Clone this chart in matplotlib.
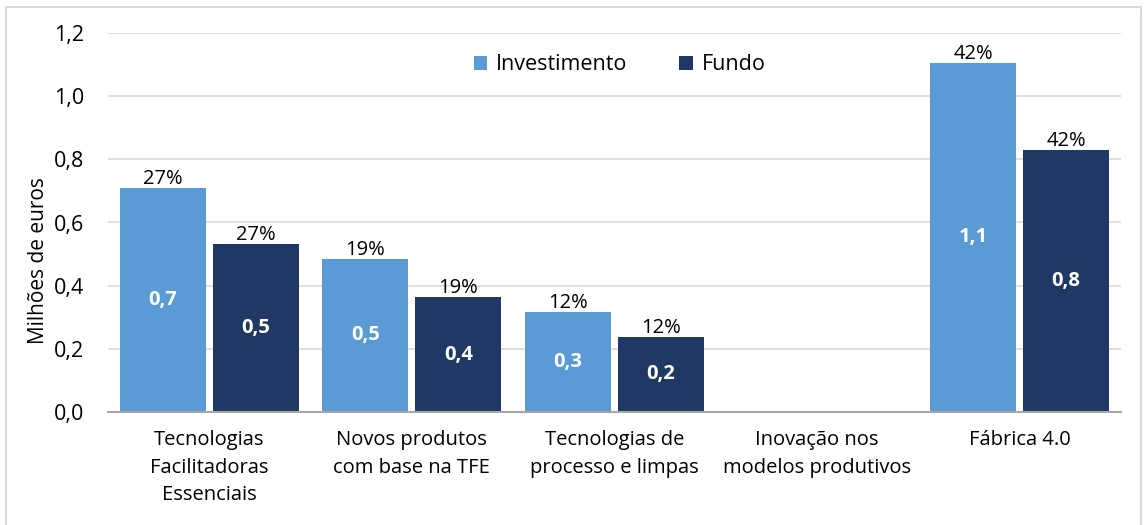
import numpy as np
import matplotlib.pyplot as plt
from matplotlib.patches import Rectangle

categorias = ['Tecnologias\nFacilitadoras\nEssenciais', 'Novos produtos\ncom base na TFE',
              'Tecnologias de\nprocesso e limpas', 'Inovação nos\nmodelos produtivos', 'Fábrica 4.0']
investimento = [0.71, 0.485, 0.317, 0.0, 1.106]
fundo = [0.532, 0.364, 0.238, 0.0, 0.83]
pct_inv = ['27%', '19%', '12%', '', '42%']
pct_fundo = ['27%', '19%', '12%', '', '42%']

plt.rcParams['font.family'] = ['Open Sans', 'DejaVu Sans']

fig = plt.figure(figsize=(11.47, 5.25), dpi=100)
ax = fig.add_axes([108 / 1147, 1 - 412 / 525, (1121 - 108) / 1147, (412 - 33) / 525])

x = np.arange(len(categorias))
w = 0.424
off = 0.2295
c_inv = '#5B9BD5'
c_fun = '#203864'

b1 = ax.bar(x - off, investimento, w, color=c_inv, label='Investimento', zorder=3)
b2 = ax.bar(x + off, fundo, w, color=c_fun, label='Fundo', zorder=3)

for bars, vals, pcts in [(b1, investimento, pct_inv), (b2, fundo, pct_fundo)]:
    for b, v, p in zip(bars, vals, pcts):
        if v == 0:
            continue
        cx = b.get_x() + b.get_width() / 2
        ax.text(cx, v - 0.004, p, ha='center', va='bottom', fontsize=14.5, color='black')
        ax.text(cx, v / 2, ('%.1f' % v).replace('.', ','), ha='center', va='center',
                fontsize=14.5, color='white', fontweight='bold')

ax.set_xlim(-0.5, 4.5)
ax.set_ylim(0, 1.2)
ax.set_yticks(np.arange(0, 1.21, 0.2))
ax.set_yticklabels([('%.1f' % t).replace('.', ',') for t in np.arange(0, 1.21, 0.2)], fontsize=15.5)
ax.set_xticks(x)
ax.set_xticklabels(categorias, fontsize=14.5, linespacing=1.5)
ax.tick_params(axis='both', length=0)
ax.tick_params(axis='y', pad=17)
ax.tick_params(axis='x', pad=13)
ax.grid(axis='y', color='#D9D9D9', linewidth=1.2, zorder=0)
for s in ['top', 'right', 'left']:
    ax.spines[s].set_visible(False)
ax.spines['bottom'].set_color('#A6A6A6')
ax.spines['bottom'].set_linewidth(1.5)
ax.spines['bottom'].set_zorder(4)

ax.set_ylabel('Milhões de euros', fontsize=15)
ax.yaxis.set_label_coords(-0.058, 0.40)

ax.legend(loc='upper center', bbox_to_anchor=(0.505, 0.995), ncol=2, frameon=False,
          fontsize=15.5, handlelength=0.65, handleheight=0.65, columnspacing=2.4, handletextpad=0.4)

fig.patches.append(Rectangle((6 / 1147, -0.05), (1141 - 6) / 1147, 1.05 - 7 / 525, transform=fig.transFigure,
                             fill=False, edgecolor='#D9D9D9', linewidth=1.5))

fig.savefig('out.png', dpi=100)
